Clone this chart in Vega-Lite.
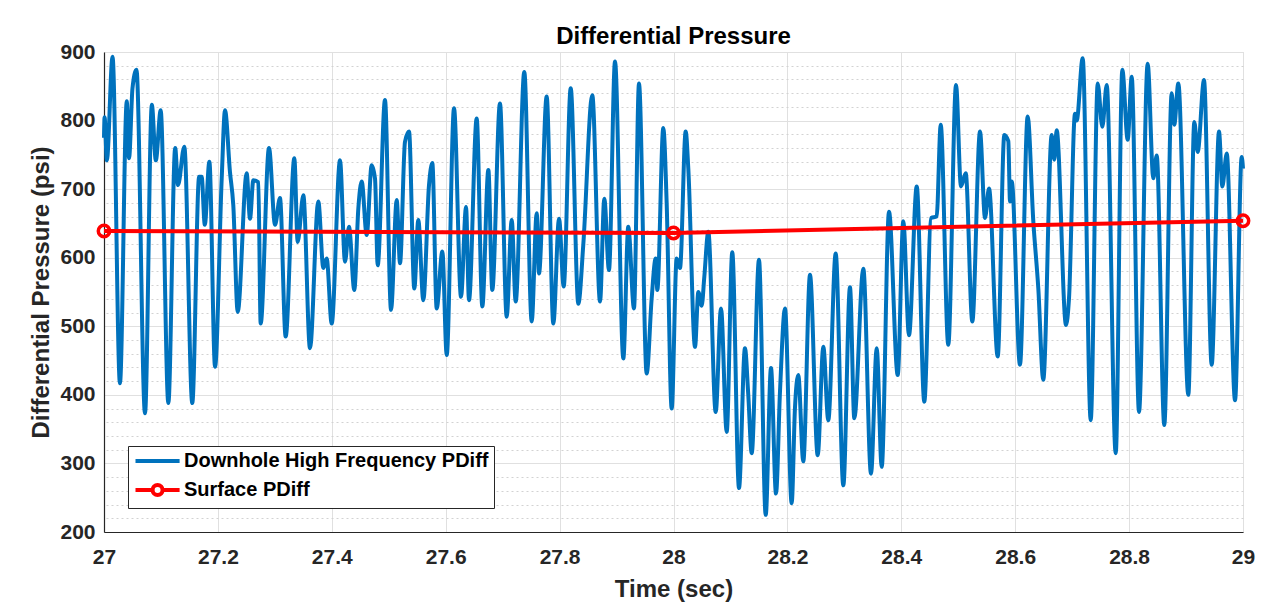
{
  "$schema": "https://vega.github.io/schema/vega-lite/v6.json",
  "width": 1139,
  "height": 480,
  "autosize": "none",
  "padding": {"left": 104, "top": 52, "right": 22, "bottom": 72},
  "background": "white",
  "title": {"text": "Differential Pressure", "fontSize": 24, "fontWeight": "bold", "font": "Liberation Sans", "color": "#000000", "anchor": "middle", "baseline": "alphabetic", "offset": 9, "frame": "group", "dy": 36},
  "datasets": {
    "downhole": [
      {"t": 27.000, "v": 775}, {"t": 27.001, "v": 805}, {"t": 27.005, "v": 742}, {"t": 27.015, "v": 893},
      {"t": 27.028, "v": 417}, {"t": 27.040, "v": 828}, {"t": 27.044, "v": 745}, {"t": 27.050, "v": 847},
      {"t": 27.057, "v": 874}, {"t": 27.072, "v": 373}, {"t": 27.084, "v": 823}, {"t": 27.091, "v": 742},
      {"t": 27.0995, "v": 815}, {"t": 27.113, "v": 388}, {"t": 27.125, "v": 760}, {"t": 27.130, "v": 706},
      {"t": 27.141, "v": 762}, {"t": 27.155, "v": 388}, {"t": 27.167, "v": 718}, {"t": 27.1715, "v": 718},
      {"t": 27.177, "v": 648}, {"t": 27.185, "v": 740}, {"t": 27.195, "v": 441}, {"t": 27.2067, "v": 716},
      {"t": 27.2125, "v": 815}, {"t": 27.2212, "v": 725}, {"t": 27.227, "v": 677}, {"t": 27.2348, "v": 521},
      {"t": 27.2505, "v": 723}, {"t": 27.2564, "v": 657}, {"t": 27.2622, "v": 713}, {"t": 27.271, "v": 710},
      {"t": 27.2751, "v": 504}, {"t": 27.2897, "v": 760}, {"t": 27.3003, "v": 648}, {"t": 27.309, "v": 687},
      {"t": 27.319, "v": 485}, {"t": 27.3342, "v": 745}, {"t": 27.3401, "v": 623}, {"t": 27.35, "v": 691},
      {"t": 27.3617, "v": 468}, {"t": 27.3763, "v": 682}, {"t": 27.3851, "v": 585}, {"t": 27.391, "v": 599},
      {"t": 27.3998, "v": 504}, {"t": 27.4144, "v": 742}, {"t": 27.4232, "v": 594}, {"t": 27.4302, "v": 645},
      {"t": 27.4395, "v": 553}, {"t": 27.4466, "v": 672}, {"t": 27.4525, "v": 711}, {"t": 27.4613, "v": 633},
      {"t": 27.47, "v": 735}, {"t": 27.4759, "v": 715}, {"t": 27.4806, "v": 589}, {"t": 27.4934, "v": 830},
      {"t": 27.504, "v": 524}, {"t": 27.514, "v": 684}, {"t": 27.5198, "v": 592}, {"t": 27.5285, "v": 769},
      {"t": 27.5356, "v": 784}, {"t": 27.5449, "v": 555}, {"t": 27.5519, "v": 655}, {"t": 27.5607, "v": 538},
      {"t": 27.5707, "v": 706}, {"t": 27.5765, "v": 738}, {"t": 27.5842, "v": 526}, {"t": 27.5941, "v": 609},
      {"t": 27.6018, "v": 458}, {"t": 27.6146, "v": 818}, {"t": 27.6269, "v": 543}, {"t": 27.6357, "v": 674},
      {"t": 27.6409, "v": 538}, {"t": 27.6544, "v": 803}, {"t": 27.6643, "v": 529}, {"t": 27.6749, "v": 728},
      {"t": 27.6818, "v": 553}, {"t": 27.6953, "v": 825}, {"t": 27.7071, "v": 514}, {"t": 27.7159, "v": 655},
      {"t": 27.7229, "v": 536}, {"t": 27.738, "v": 871}, {"t": 27.751, "v": 507}, {"t": 27.7598, "v": 665},
      {"t": 27.7638, "v": 577}, {"t": 27.7773, "v": 835}, {"t": 27.789, "v": 504}, {"t": 27.799, "v": 657},
      {"t": 27.8072, "v": 558}, {"t": 27.8195, "v": 847}, {"t": 27.8329, "v": 533}, {"t": 27.8416, "v": 619},
      {"t": 27.8574, "v": 837}, {"t": 27.871, "v": 536}, {"t": 27.8785, "v": 686}, {"t": 27.8867, "v": 582},
      {"t": 27.8973, "v": 886}, {"t": 27.9119, "v": 453}, {"t": 27.9206, "v": 645}, {"t": 27.9306, "v": 526},
      {"t": 27.9394, "v": 854}, {"t": 27.9529, "v": 431}, {"t": 27.9617, "v": 541}, {"t": 27.9687, "v": 599},
      {"t": 27.9716, "v": 553}, {"t": 27.9821, "v": 789}, {"t": 27.988, "v": 680}, {"t": 27.9968, "v": 380},
      {"t": 28.0056, "v": 599}, {"t": 28.0114, "v": 585}, {"t": 28.0214, "v": 784}, {"t": 28.026, "v": 730},
      {"t": 28.0378, "v": 470}, {"t": 28.0436, "v": 550}, {"t": 28.0495, "v": 530}, {"t": 28.0541, "v": 572},
      {"t": 28.0611, "v": 638}, {"t": 28.0741, "v": 375}, {"t": 28.0834, "v": 526}, {"t": 28.0934, "v": 346},
      {"t": 28.1032, "v": 608}, {"t": 28.115, "v": 264}, {"t": 28.1255, "v": 468}, {"t": 28.1313, "v": 400},
      {"t": 28.1373, "v": 315}, {"t": 28.1501, "v": 597}, {"t": 28.1619, "v": 225}, {"t": 28.1712, "v": 439},
      {"t": 28.18, "v": 256}, {"t": 28.187, "v": 405}, {"t": 28.1958, "v": 526}, {"t": 28.2075, "v": 242},
      {"t": 28.2133, "v": 381}, {"t": 28.2191, "v": 429}, {"t": 28.2279, "v": 303}, {"t": 28.2397, "v": 575},
      {"t": 28.2532, "v": 312}, {"t": 28.2631, "v": 470}, {"t": 28.2718, "v": 363}, {"t": 28.2848, "v": 606},
      {"t": 28.2982, "v": 268}, {"t": 28.3099, "v": 557}, {"t": 28.3175, "v": 366}, {"t": 28.3333, "v": 584},
      {"t": 28.3468, "v": 285}, {"t": 28.3568, "v": 468}, {"t": 28.3656, "v": 295}, {"t": 28.3784, "v": 667},
      {"t": 28.3937, "v": 429}, {"t": 28.4035, "v": 653}, {"t": 28.4135, "v": 487}, {"t": 28.4271, "v": 704},
      {"t": 28.4404, "v": 390}, {"t": 28.4522, "v": 658}, {"t": 28.4621, "v": 660}, {"t": 28.4692, "v": 794},
      {"t": 28.4825, "v": 473}, {"t": 28.4961, "v": 852}, {"t": 28.5048, "v": 704}, {"t": 28.5131, "v": 723},
      {"t": 28.5247, "v": 507}, {"t": 28.5382, "v": 784}, {"t": 28.547, "v": 658}, {"t": 28.554, "v": 701},
      {"t": 28.5693, "v": 456}, {"t": 28.5809, "v": 779}, {"t": 28.5879, "v": 770}, {"t": 28.5909, "v": 682},
      {"t": 28.5939, "v": 711}, {"t": 28.6084, "v": 444}, {"t": 28.6219, "v": 806}, {"t": 28.6318, "v": 653},
      {"t": 28.6406, "v": 555}, {"t": 28.6493, "v": 422}, {"t": 28.6641, "v": 779}, {"t": 28.6686, "v": 743},
      {"t": 28.6728, "v": 786}, {"t": 28.6892, "v": 502}, {"t": 28.6945, "v": 541}, {"t": 28.705, "v": 810},
      {"t": 28.708, "v": 800}, {"t": 28.7185, "v": 891}, {"t": 28.7326, "v": 363}, {"t": 28.7449, "v": 854},
      {"t": 28.753, "v": 791}, {"t": 28.7607, "v": 852}, {"t": 28.7765, "v": 315}, {"t": 28.7881, "v": 874},
      {"t": 28.7975, "v": 772}, {"t": 28.8046, "v": 864}, {"t": 28.8174, "v": 375}, {"t": 28.8326, "v": 883},
      {"t": 28.8425, "v": 716}, {"t": 28.8485, "v": 749}, {"t": 28.8618, "v": 356}, {"t": 28.8748, "v": 840},
      {"t": 28.8793, "v": 794}, {"t": 28.8864, "v": 854}, {"t": 28.904, "v": 400}, {"t": 28.9145, "v": 798},
      {"t": 28.9204, "v": 754}, {"t": 28.9315, "v": 859}, {"t": 28.945, "v": 444}, {"t": 28.9579, "v": 784},
      {"t": 28.9637, "v": 704}, {"t": 28.9714, "v": 752}, {"t": 28.986, "v": 392}, {"t": 28.9977, "v": 747},
      {"t": 29.0, "v": 730}
    ],
    "surface": [
      {"t": 27, "v": 639}, {"t": 28, "v": 636}, {"t": 29, "v": 654}
    ]
  },
  "layer": [
    {
      "data": {"name": "downhole"},
      "mark": {"type": "line", "interpolate": "monotone", "strokeWidth": 4, "clip": false},
      "encoding": {
        "x": {
          "field": "t", "type": "quantitative",
          "scale": {"domain": [27, 29], "nice": false, "zero": false},
          "axis": {"values": [27, 27.2, 27.4, 27.6, 27.8, 28, 28.2, 28.4, 28.6, 28.8, 29], "format": "~g", "title": "Time (sec)", "labelPadding": 14, "titlePadding": 10, "grid": true, "labelFlush": false}
        },
        "y": {
          "field": "v", "type": "quantitative",
          "scale": {"domain": [200, 900], "nice": false, "zero": false},
          "axis": {"orient": "left", "values": [200, 300, 400, 500, 600, 700, 800, 900], "title": "Differential Pressure (psi)", "labelPadding": 9, "titlePadding": 6, "grid": true}
        },
        "color": {
          "datum": "Downhole High Frequency PDiff", "type": "nominal",
          "scale": {"domain": ["Downhole High Frequency PDiff", "Surface PDiff"], "range": ["#0072BD", "#FF0000"]},
          "legend": {
            "title": null, "orient": "none", "legendX": 24, "legendY": 394, "direction": "vertical",
            "fillColor": "white", "strokeColor": "#262626", "padding": 5,
            "labelFont": "Liberation Sans", "labelFontSize": 20, "labelFontWeight": "bold", "labelColor": "#000000",
            "symbolSize": 144, "symbolStrokeWidth": 4, "labelOffset": 31, "rowPadding": 6, "labelLimit": 400,
            "symbolType": "stroke",
            "encode": {"symbols": {"update": {
              "shape": {"signal": "datum.value == 'Surface PDiff' ? 'M-1.25,0H1.6M3.26,0H6.1M3.26,0A0.83,0.83,0,1,1,1.6,0A0.83,0.83,0,1,1,3.26,0' : 'M-1.25,0H6.1'"},
              "fill": {"value": "transparent"}
            }}}
          }
        }
      }
    },
    {
      "data": {"name": "surface"},
      "mark": {"type": "line", "strokeWidth": 4, "clip": false},
      "encoding": {
        "x": {"field": "t", "type": "quantitative"},
        "y": {"field": "v", "type": "quantitative", "axis": null},
        "color": {"datum": "Surface PDiff", "type": "nominal"}
      }
    },
    {
      "data": {"name": "surface"},
      "mark": {"type": "point", "shape": "circle", "filled": false, "size": 130, "strokeWidth": 3.5, "opacity": 1, "clip": false},
      "encoding": {
        "x": {"field": "t", "type": "quantitative"},
        "y": {
          "field": "v", "type": "quantitative",
          "axis": {"orient": "right", "values": [220, 240, 260, 280, 320, 340, 360, 380, 420, 440, 460, 480, 520, 540, 560, 580, 620, 640, 660, 680, 720, 740, 760, 780, 820, 840, 860, 880], "grid": true, "gridDash": [2, 3], "gridColor": "#d2d2d2", "labels": false, "ticks": false, "domain": false, "title": null}
        },
        "color": {"datum": "Surface PDiff", "type": "nominal"}
      }
    }
  ],
  "resolve": {"axis": {"y": "independent"}},
  "config": {
    "font": "Liberation Sans",
    "view": {"stroke": "#d4d4d4", "strokeWidth": 1},
    "axis": {
      "labelFont": "Liberation Sans", "labelFontSize": 21, "labelFontWeight": "bold", "labelColor": "#262626",
      "titleFont": "Liberation Sans", "titleFontSize": 24, "titleFontWeight": "bold", "titleColor": "#262626",
      "gridColor": "#e0e0e0", "gridWidth": 1, "domainColor": "#262626", "domainWidth": 1.2,
      "ticks": false, "tickSize": 0
    }
  }
}
